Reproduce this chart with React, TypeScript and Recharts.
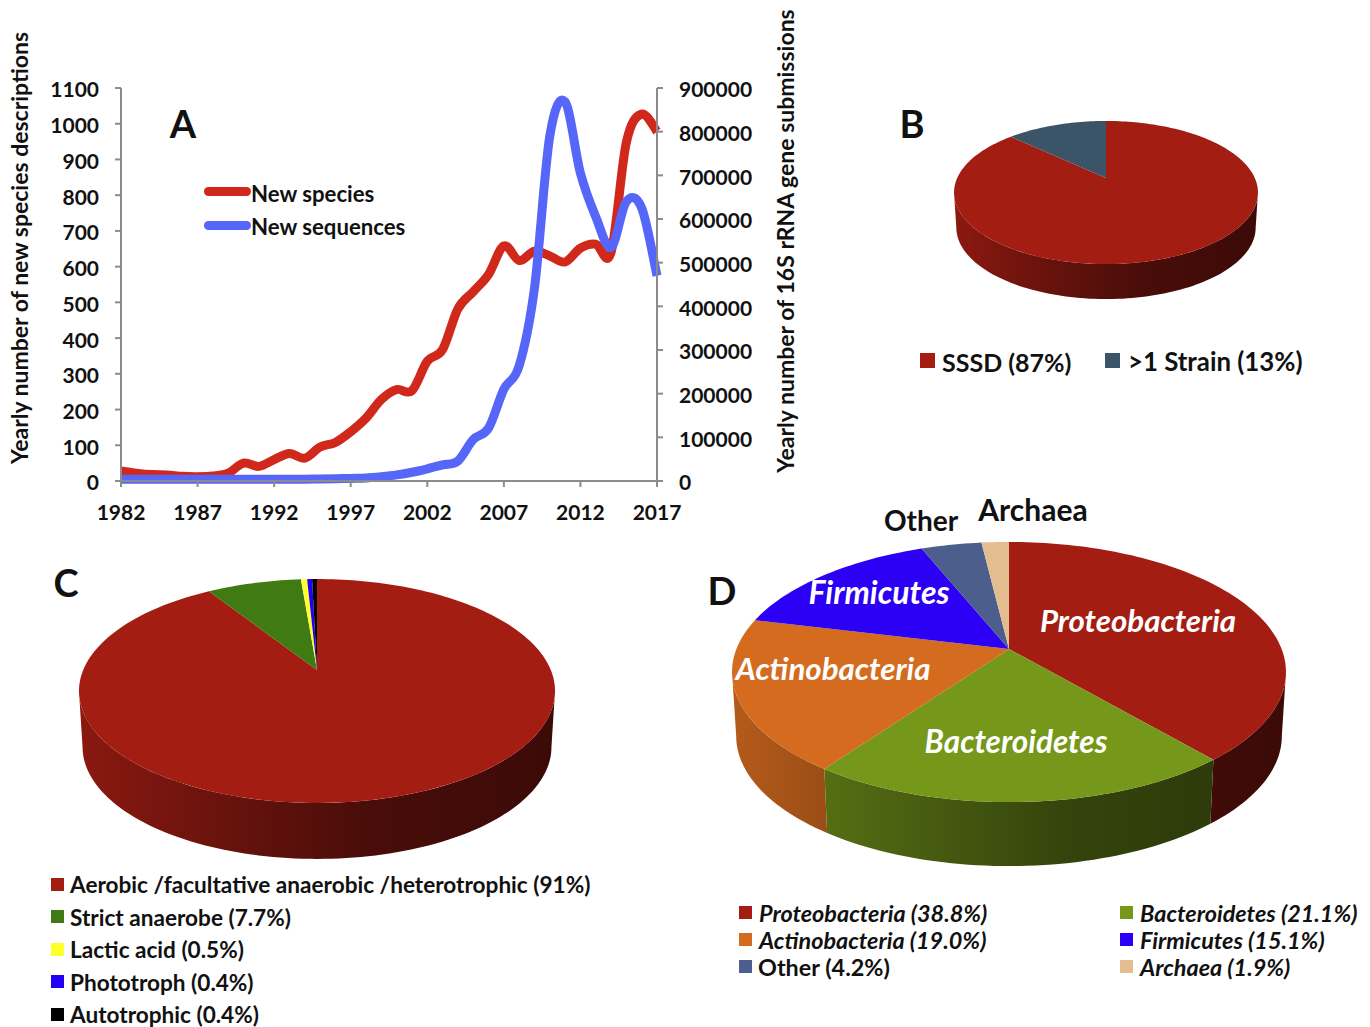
import { ComposedChart, Line, XAxis, YAxis, PieChart, Pie } from 'recharts'

const years = [1982, 1983, 1984, 1985, 1986, 1987, 1988, 1989, 1990, 1991, 1992, 1993, 1994, 1995, 1996, 1997, 1998, 1999, 2000, 2001, 2002, 2003, 2004, 2005, 2006, 2007, 2008, 2009, 2010, 2011, 2012, 2013, 2014, 2015, 2016, 2017]
const newSpecies = [28, 22, 18, 17, 13, 12, 14, 22, 50, 41, 60, 77, 64, 95, 108, 138, 176, 228, 256, 253, 335, 368, 482, 530, 578, 658, 617, 643, 630, 613, 652, 663, 640, 948, 1027, 978]
const newSequences = [4000, 4000, 4000, 4000, 4000, 4000, 4000, 4000, 4000, 4000, 4000, 4000, 4000, 4500, 5000, 6000, 7000, 10000, 14000, 20000, 28000, 37000, 46000, 95000, 121000, 210000, 264000, 442000, 790000, 868000, 705000, 605000, 535000, 640000, 625000, 470000]
const xTicks = [1982, 1987, 1992, 1997, 2002, 2007, 2012, 2017]
const leftTicks = [0, 100, 200, 300, 400, 500, 600, 700, 800, 900, 1000, 1100]
const rightTicks = [0, 100000, 200000, 300000, 400000, 500000, 600000, 700000, 800000, 900000]

const strainNames = ['SSSD', '>1 Strain']
const strainValues = [87, 13]
const strainColors = ['#a41d13', '#3c5468']

const metabolismNames = ['Aerobic /facultative anaerobic /heterotrophic', 'Strict anaerobe', 'Lactic acid', 'Phototroph', 'Autotrophic']
const metabolismValues = [91, 7.7, 0.5, 0.4, 0.4]
const metabolismColors = ['#a41d13', '#3f7a12', '#ffff2b', '#2200f5', '#000000']

const phylumNames = ['Proteobacteria', 'Bacteroidetes', 'Actinobacteria', 'Firmicutes', 'Other', 'Archaea']
const phylumValues = [38.8, 21.1, 19.0, 15.1, 4.2, 1.9]
const phylumColors = ['#a41d13', '#75971a', '#d56b1f', '#2b00f5', '#4c5e8c', '#e3bd8f']

const lineData = years.map((year, i) => ({ year, species: newSpecies[i], sequences: newSequences[i] }))
const toSlices = (names: string[], values: number[], colors: string[]) =>
  names.map((name, i) => ({ name, value: values[i], fill: colors[i] }))

const FONT = 'Lato, sans-serif'

// same kind of smoothing as a spreadsheet's "smoothed line"
function smoothCurve(ctx: any) {
  let pts: number[][] = []
  return {
    areaStart() {},
    areaEnd() {},
    lineStart() {
      pts = []
    },
    point(x: number, y: number) {
      pts.push([+x, +y])
    },
    lineEnd() {
      pts.forEach((p, i) => {
        if (i === 0) {
          ctx.moveTo(p[0], p[1])
          return
        }
        const a = pts[i - 2] ?? pts[i - 1]
        const b = pts[i - 1]
        const d = pts[i + 1] ?? p
        ctx.bezierCurveTo(b[0] + (p[0] - a[0]) / 6, b[1] + (p[1] - a[1]) / 6, p[0] - (d[0] - b[0]) / 6, p[1] - (d[1] - b[1]) / 6, p[0], p[1])
      })
    },
  }
}

function shade(hex: string, f: number) {
  const n = parseInt(hex.slice(1), 16)
  const c = [(n >> 16) & 255, (n >> 8) & 255, n & 255].map((v) => Math.round(v * f))
  return `rgb(${c[0]},${c[1]},${c[2]})`
}

// perspective disc: k tilts the circle so the apex sits behind the ellipse centre
function tiltedSector(id: string, squash: number, k: number, depth: number) {
  return function TiltedSector(props: any) {
    const { cx, cy, outerRadius: a, startAngle, endAngle, fill } = props
    const pt = (deg: number) => {
      const t = (deg * Math.PI) / 180
      const d = 1 + k * Math.sin(t)
      return [cx + (a * Math.cos(t)) / d, cy - (squash * Math.sin(t)) / d]
    }
    const sample = (from: number, to: number) => {
      const n = Math.max(2, Math.ceil(Math.abs(from - to) / 1.5))
      return Array.from({ length: n + 1 }, (_, i) => pt(from + ((to - from) * i) / n))
    }
    const top = sample(startAngle, endAngle)
    const beta = (Math.asin(k) * 180) / Math.PI
    const hi = Math.min(startAngle, -beta)
    const lo = Math.max(endAngle, -180 + beta)
    let wall = ''
    if (hi > lo) {
      const upper = sample(hi, lo)
      const lower = upper.map(([x, y]) => [cx + (x - cx) * 0.985, y + depth]).reverse()
      wall = 'M' + [...upper, ...lower].map((p) => p.join(',')).join('L') + 'Z'
    }
    const gradId = `${id}-${fill.slice(1)}`
    const rx = a * 1.02
    return (
      <g>
        <defs>
          <linearGradient id={gradId} gradientUnits="userSpaceOnUse" x1={cx - rx} x2={cx + rx} y1={0} y2={0}>
            <stop offset="0%" stopColor={shade(fill, 0.85)} />
            <stop offset="18%" stopColor={shade(fill, 0.72)} />
            <stop offset="60%" stopColor={shade(fill, 0.45)} />
            <stop offset="100%" stopColor={shade(fill, 0.36)} />
          </linearGradient>
        </defs>
        {wall && <path d={wall} fill={`url(#${gradId})`} />}
        <path d={`M${cx},${cy}L` + top.map((p) => p.join(',')).join('L') + 'Z'} fill={fill} />
      </g>
    )
  }
}

function Txt({ x, y, size, children, color = '#111', italic = false, rotate = 0, anchor = 'center' }: any) {
  const shift = anchor === 'center' ? '-50%' : '0'
  return (
    <div
      style={{
        position: 'absolute', left: x, top: y, whiteSpace: 'nowrap', fontFamily: FONT, fontWeight: 700, fontSize: size,
        lineHeight: 1, color, fontStyle: italic ? 'italic' : 'normal',
        transform: `translate(${shift}, -50%) rotate(${rotate}deg)`,
      }}
    >
      {children}
    </div>
  )
}

function Swatch({ x, y, size, color }: any) {
  return <div style={{ position: 'absolute', left: x, top: y - size / 2, width: size, height: size, background: color }} />
}

function LineKey({ y, color }: any) {
  return <div style={{ position: 'absolute', left: 204, top: y - 4.5, width: 47, height: 9, borderRadius: 4.5, background: color }} />
}

function TiltedPie({ id, left, top, width, height, cx, cy, a, squash, k, depth, data }: any) {
  return (
    <div style={{ position: 'absolute', left, top }}>
      <PieChart width={width} height={height} margin={{ top: 0, right: 0, bottom: 0, left: 0 }}>
        <Pie
          data={data}
          dataKey="value"
          cx={cx}
          cy={cy}
          innerRadius={0}
          outerRadius={a}
          startAngle={90}
          endAngle={-270}
          stroke="none"
          isAnimationActive={false}
          shape={tiltedSector(id, squash, k, depth)}
        />
      </PieChart>
    </div>
  )
}

export default function App() {
  const axisTick = { fill: '#111', fontFamily: FONT, fontWeight: 700, fontSize: 21 }
  const yTick = { ...axisTick, dy: 2 }
  const axisLine = { stroke: '#8c8c8c', strokeWidth: 2 }
  return (
    <div style={{ position: 'absolute', left: 0, top: 0, width: 1370, height: 1027, background: '#fff', overflow: 'hidden' }}>
      <div style={{ position: 'absolute', left: 0, top: 0 }}>
        <ComposedChart width={800} height={530} data={lineData} margin={{ top: 88, right: 0, bottom: 0, left: 0 }}>
          <XAxis
            dataKey="year"
            type="number"
            domain={[1982, 2017]}
            ticks={xTicks}
            interval={0}
            height={49}
            tick={axisTick}
            tickSize={6}
            tickMargin={18}
            axisLine={axisLine}
            tickLine={axisLine}
          />
          <YAxis
            yAxisId="left"
            width={121}
            domain={[0, 1100]}
            ticks={leftTicks}
            interval={0}
            tick={yTick}
            tickSize={6}
            tickMargin={16}
            axisLine={axisLine}
            tickLine={axisLine}
          />
          <YAxis
            yAxisId="right"
            orientation="right"
            width={143}
            domain={[0, 900000]}
            ticks={rightTicks}
            interval={0}
            tick={yTick}
            tickSize={6}
            tickMargin={16}
            axisLine={axisLine}
            tickLine={axisLine}
          />
          <Line yAxisId="left" type={smoothCurve as any} dataKey="species" stroke="#d0281a" strokeWidth={9} dot={false} isAnimationActive={false} />
          <Line yAxisId="right" type={smoothCurve as any} dataKey="sequences" stroke="#5566f8" strokeWidth={9} dot={false} isAnimationActive={false} />
        </ComposedChart>
      </div>

      <Txt x={19} y={248} size={23} rotate={-90}>Yearly number of new species descriptions</Txt>
      <Txt x={785} y={241} size={23} rotate={-90}>Yearly number of 16S rRNA gene submissions</Txt>
      <Txt x={183} y={123} size={38}>A</Txt>
      <LineKey y={191} color="#d0281a" />
      <LineKey y={225} color="#5566f8" />
      <Txt x={251} y={194} size={22.2} anchor="left">New species</Txt>
      <Txt x={251} y={227} size={22.2} anchor="left">New sequences</Txt>

      <TiltedPie id="b" left={900} top={100} width={420} height={220} cx={206} cy={78} a={148.8} squash={68.6} k={0.203} depth={35} data={toSlices(strainNames, strainValues, strainColors)} />
      <Txt x={912} y={123} size={38}>B</Txt>
      <Swatch x={920} y={360} size={15} color={strainColors[0]} />
      <Txt x={942} y={361.5} size={25} anchor="left">{`${strainNames[0]} (${strainValues[0]}%)`}</Txt>
      <Swatch x={1105} y={360} size={15} color={strainColors[1]} />
      <Txt x={1128} y={361.5} size={25.8} anchor="left">{`${strainNames[1]} (${strainValues[1]}%)`}</Txt>

      <TiltedPie id="c" left={40} top={560} width={560} height={310} cx={277} cy={110} a={233.8} squash={108} k={0.1875} depth={56} data={toSlices(metabolismNames, metabolismValues, metabolismColors)} />
      <Txt x={66} y={582} size={38}>C</Txt>
      {metabolismNames.map((name, i) => (
        <div key={name}>
          <Swatch x={51} y={884 + i * 32.5} size={13} color={metabolismColors[i]} />
          <Txt x={70} y={885 + i * 32.5} size={22.6} anchor="left">{`${name} (${metabolismValues[i]}%)`}</Txt>
        </div>
      ))}

      <TiltedPie id="d" left={710} top={530} width={600} height={350} cx={299} cy={119} a={272.6} squash={126} k={0.177} depth={64} data={toSlices(phylumNames, phylumValues, phylumColors)} />
      <Txt x={722} y={590} size={38}>D</Txt>
      <Txt x={921} y={520} size={28}>Other</Txt>
      <Txt x={1033} y={509} size={30}>Archaea</Txt>
      <Txt x={1138} y={621} size={31.3} color="#fff" italic>Proteobacteria</Txt>
      <Txt x={1016} y={742} size={31.5} color="#fff" italic>Bacteroidetes</Txt>
      <Txt x={833} y={669} size={31.3} color="#fff" italic>Actinobacteria</Txt>
      <Txt x={879} y={592} size={32} color="#fff" italic>Firmicutes</Txt>
      {[[0, 739, 759, 912], [2, 739, 759, 939], [4, 739, 758, 966], [1, 1120, 1140, 912], [3, 1120, 1140, 939], [5, 1120, 1140, 966]].map(([i, sx, tx, y]) => (
        <div key={i}>
          <Swatch x={sx} y={y} size={13} color={phylumColors[i]} />
          <Txt x={tx} y={y + 1.5} size={23.4} anchor="left" italic={phylumNames[i] !== 'Other'}>
            {`${phylumNames[i]} (${phylumValues[i].toFixed(1)}%)`}
          </Txt>
        </div>
      ))}
    </div>
  )
}
